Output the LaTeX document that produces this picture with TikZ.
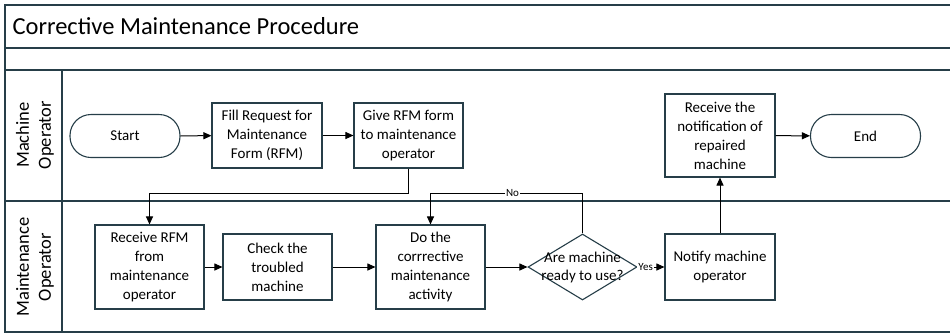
\documentclass[tikz,border=0pt]{standalone}
\usepackage{fontspec}
\setmainfont{Carlito}
\usetikzlibrary{shapes.geometric,arrows.meta}
\definecolor{ln}{RGB}{38,62,72}
\tikzset{
  frame/.style={draw=ln,line width=1.8pt},
  lane/.style={draw=ln,line width=1.2pt},
  proc/.style={draw=ln,line width=1.1pt,rectangle,align=center,font=\fontsize{15}{19}\selectfont,inner sep=0pt},
  term/.style={draw=ln,line width=1.1pt,rounded corners=21pt,align=center,font=\fontsize{15}{19}\selectfont,minimum width=110pt,minimum height=43pt},
  dec/.style={draw=ln,line width=1.1pt,diamond,aspect=1.65,align=center,font=\fontsize{15}{18}\selectfont,minimum width=109pt,minimum height=66pt,inner sep=-20pt},
  flow/.style={draw=black,line width=1pt,-{Triangle[length=8pt,width=7pt]}},
  lbl/.style={fill=white,inner sep=1pt,font=\fontsize{11}{12}\selectfont},
  lanetxt/.style={rotate=90,align=center,font=\fontsize{18.5}{22}\selectfont}
}
\begin{document}
\begin{tikzpicture}[x=1pt,y=-1pt]
\useasboundingbox (0,0) rectangle (950,333);
\fill[white] (0,0) rectangle (950,333);
% frame
\draw[frame] (952,5) -- (5,5) -- (5,332) -- (952,332);
\draw[frame] (5,48) -- (952,48);
\draw[frame] (5,70) -- (952,70);
\draw[lane] (5,201) -- (952,201);
\draw[lane] (62,70) -- (62,332);
\node[anchor=west,font=\fontsize{24.5}{28}\selectfont] (title) at (9,26) {Corrective Maintenance Procedure};
\node[lanetxt] (l1) at (35,135) {Machine\\Operator};
\node[lanetxt] (l2) at (35,267) {Maintenance\\Operator};
% nodes upper lane
\node[term] (start) at (125,136) {Start};
\node[proc,minimum width=110pt,minimum height=65pt] (fill) at (267,135.5) {Fill Request for\\Maintenance\\Form (RFM)};
\node[proc,minimum width=109pt,minimum height=65pt] (give) at (408.5,135.5) {Give RFM form\\to maintenance\\operator};
\node[proc,minimum width=110pt,minimum height=83pt] (recn) at (720,135.5) {Receive the\\notification of\\repaired\\machine};
\node[term] (end) at (865.5,136) {End};
% lower lane
\node[proc,minimum width=109pt,minimum height=84pt] (recv) at (149.5,267) {Receive RFM\\from\\maintenance\\operator};
\node[proc,minimum width=109pt,minimum height=66pt] (check) at (277.5,267) {Check the\\troubled\\machine};
\node[proc,minimum width=109pt,minimum height=84pt] (do) at (430.5,267) {Do the\\corrrective\\maintenance\\activity};
\node[dec] (dia) at (582.5,267) {Are machine\\ready to use?};
\node[proc,minimum width=110pt,minimum height=66pt] (notify) at (720,267) {Notify machine\\operator};
\coordinate (c1) at (408,193);
\coordinate (c2) at (149.5,193);
\coordinate (c3) at (582.5,193);
\coordinate (c4) at (430.5,193);
% connectors
\draw[flow] (start) -- (fill);
\draw[flow] (fill) -- (give);
\draw[flow] (recn) -- (end);
\draw[flow] (give.south -| c1) -- (c1) -- (c2) -- (recv.north);
\draw[flow] (recv) -- (check);
\draw[flow] (check) -- (do);
\draw[flow] (do) -- (dia);
\draw[flow] (dia) -- node[lbl,pos=0.3] {Yes} (notify);
\draw[flow] (dia.north) -- (c3) -- node[lbl,pos=0.46] {No} (c4) -- (do.north);
\draw[flow] (notify) -- (recn);
\end{tikzpicture}
\end{document}
